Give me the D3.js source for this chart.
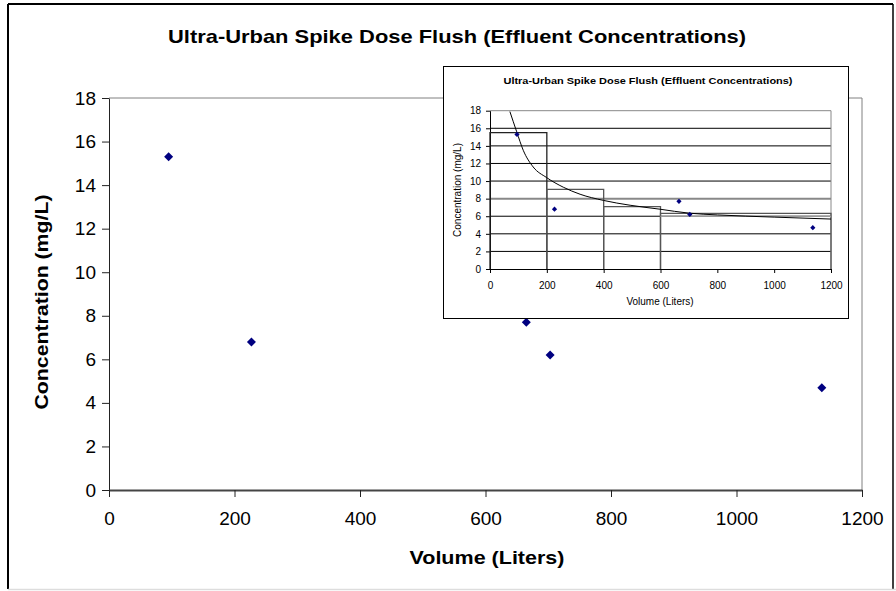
<!DOCTYPE html>
<html><head><meta charset="utf-8">
<script src="https://cdn.jsdelivr.net/npm/d3@7/dist/d3.min.js"></script>
<style>body{margin:0;background:#fff}svg{display:block;font-family:"Liberation Sans",Arial,sans-serif}</style>
</head><body><svg id="c" width="896" height="591"></svg>
<script>
const titleText = "Ultra-Urban Spike Dose Flush (Effluent Concentrations)";
const xTitle = "Volume (Liters)";
const yTitle = "Concentration (mg/L)";
const volumes = [95, 227, 665, 703, 1136];
const concentrations = [15.3, 6.8, 7.7, 6.2, 4.7];
const xTicks = [0, 200, 400, 600, 800, 1000, 1200];
const yTicks = [0, 2, 4, 6, 8, 10, 12, 14, 16, 18];
// inset: step boxes and trend curve
const binStart = [0, 200, 400, 600];
const binEnd = [200, 400, 600, 1200];
const binValue = [15.5, 9.05, 7.1, 6.33];
const trendX = [70, 94, 117, 152, 199, 258, 317, 399, 493, 598, 700, 800, 1000, 1200];
const trendY = [17.9, 15.6, 13.5, 11.6, 10.4, 9.3, 8.5, 7.8, 7.25, 6.8, 6.35, 6.15, 5.9, 5.68];

const svg = d3.select("#c");
const fmt = d3.format("d");
// outer frame
svg.append("line").attr("x1",8).attr("x2",8).attr("y1",4).attr("y2",589).attr("stroke","#000").attr("stroke-width",2);
svg.append("line").attr("x1",8).attr("x2",893).attr("y1",4).attr("y2",4).attr("stroke","#000").attr("stroke-width",2);
svg.append("line").attr("x1",893).attr("x2",893).attr("y1",4).attr("y2",589).attr("stroke","#000").attr("stroke-width",1.5);
svg.append("line").attr("x1",8).attr("x2",896).attr("y1",589.5).attr("y2",589.5).attr("stroke","#ddd").attr("stroke-width",1.5);

svg.append("text").attr("x",457).attr("y",43).attr("text-anchor","middle")
  .attr("font-size",19).attr("font-weight","bold").attr("textLength",578).attr("lengthAdjust","spacingAndGlyphs").text(titleText);

const x = d3.scaleLinear().domain([0,1200]).range([109,862]);
const y = d3.scaleLinear().domain([0,18]).range([490,98]);

// plot frame (top/right gray)
svg.append("path").attr("d",`M${x(0)},${y(18)}H${x(1200)}V${y(0)}`).attr("fill","none").attr("stroke","#808080").attr("stroke-width",1);

const yAx = svg.append("g").attr("transform",`translate(${x(0)},0)`)
  .call(d3.axisLeft(y).tickValues(yTicks).tickFormat(fmt).tickSize(7).tickPadding(6).tickSizeOuter(0));
yAx.selectAll("text").attr("font-size",19).attr("fill","#000").attr("font-family","Liberation Sans, Arial, sans-serif");
yAx.select(".domain").attr("stroke","#222");
yAx.selectAll(".tick line").attr("stroke","#222");

const xAx = svg.append("g").attr("transform",`translate(0,${y(0)})`)
  .call(d3.axisBottom(x).tickValues(xTicks).tickFormat(fmt).tickSize(7).tickPadding(15).tickSizeOuter(0));
xAx.selectAll("text").attr("font-size",19).attr("fill","#000").attr("font-family","Liberation Sans, Arial, sans-serif");
xAx.select(".domain").attr("stroke","#444").attr("stroke-width",2);
xAx.selectAll(".tick line").attr("stroke","#222");

svg.append("text").attr("x",487).attr("y",564).attr("text-anchor","middle").attr("font-size",19).attr("font-weight","bold")
  .attr("textLength",155).attr("lengthAdjust","spacingAndGlyphs").text(xTitle);
svg.append("text").attr("transform",`translate(48,302) rotate(-90)`).attr("text-anchor","middle").attr("font-size",19).attr("font-weight","bold")
  .attr("textLength",215).attr("lengthAdjust","spacingAndGlyphs").text(yTitle);

const diamond = (s) => `M0,${-s}L${s},0L0,${s}L${-s},0Z`;
svg.append("g").selectAll("path").data(volumes).join("path")
  .attr("transform",(d,i)=>`translate(${x(d)},${y(concentrations[i])})`)
  .attr("d",diamond(4.5)).attr("fill","#000080");

// ----- inset -----
const ig = svg.append("g");
ig.append("rect").attr("x",443.5).attr("y",66.5).attr("width",405).attr("height",252).attr("fill","#fff").attr("stroke","#000").attr("stroke-width",1);
ig.append("text").attr("x",648).attr("y",84).attr("text-anchor","middle").attr("font-size",9.5).attr("font-weight","bold")
  .attr("textLength",289).attr("lengthAdjust","spacingAndGlyphs").text(titleText);

const ix = d3.scaleLinear().domain([0,1200]).range([490,831]);
const iy = d3.scaleLinear().domain([0,18]).range([269,110.7]);

ig.append("g").selectAll("line").data(yTicks.filter(v=>v>0)).join("line")
  .attr("x1",ix(0)).attr("x2",ix(1200)).attr("y1",d=>iy(d)).attr("y2",d=>iy(d))
  .attr("stroke",d=>(d===8||d===18)?"#888":"#000").attr("stroke-width",d=>d===8?2:1);
ig.append("line").attr("x1",ix(1200)).attr("x2",ix(1200)).attr("y1",iy(18)).attr("y2",iy(0)).attr("stroke","#888");

const iyAx = ig.append("g").attr("transform",`translate(${ix(0)},0)`)
  .call(d3.axisLeft(iy).tickValues(yTicks).tickFormat(fmt).tickSize(4).tickPadding(5).tickSizeOuter(0));
iyAx.selectAll("text").attr("font-size",10).attr("fill","#000").attr("font-family","Liberation Sans, Arial, sans-serif");
const ixAx = ig.append("g").attr("transform",`translate(0,${iy(0)})`)
  .call(d3.axisBottom(ix).tickValues(xTicks).tickFormat(fmt).tickSize(4).tickPadding(9).tickSizeOuter(0));
ixAx.selectAll("text").attr("font-size",10).attr("fill","#000").attr("font-family","Liberation Sans, Arial, sans-serif");

ig.append("text").attr("x",660).attr("y",305).attr("text-anchor","middle").attr("font-size",10).text(xTitle);
ig.append("text").attr("transform",`translate(461,190) rotate(-90)`).attr("text-anchor","middle").attr("font-size",10).text(yTitle);

// step boxes
ig.append("g").selectAll("path").data(binValue).join("path")
  .attr("d",(v,i)=>`M${ix(binStart[i])},${iy(0)}V${iy(v)}H${ix(binEnd[i])}V${iy(0)}`)
  .attr("fill","none").attr("stroke",(v,i)=>i===0?"#222":"#555").attr("stroke-width",1.3);
ig.append("line").attr("x1",ix(binStart[3])).attr("x2",ix(binEnd[3])).attr("y1",iy(binValue[3])+3).attr("y2",iy(binValue[3])+3)
  .attr("stroke","#999").attr("stroke-width",1.2);

// trend curve
ig.append("path").datum(trendX).attr("fill","none").attr("stroke","#000").attr("stroke-width",1)
  .attr("d",d3.line().x(d=>ix(d)).y((d,i)=>iy(trendY[i])).curve(d3.curveMonotoneX));

ig.append("g").selectAll("path").data(volumes).join("path")
  .attr("transform",(d,i)=>`translate(${ix(d)},${iy(concentrations[i])})`)
  .attr("d",diamond(2.6)).attr("fill","#000080");
</script></body></html>
